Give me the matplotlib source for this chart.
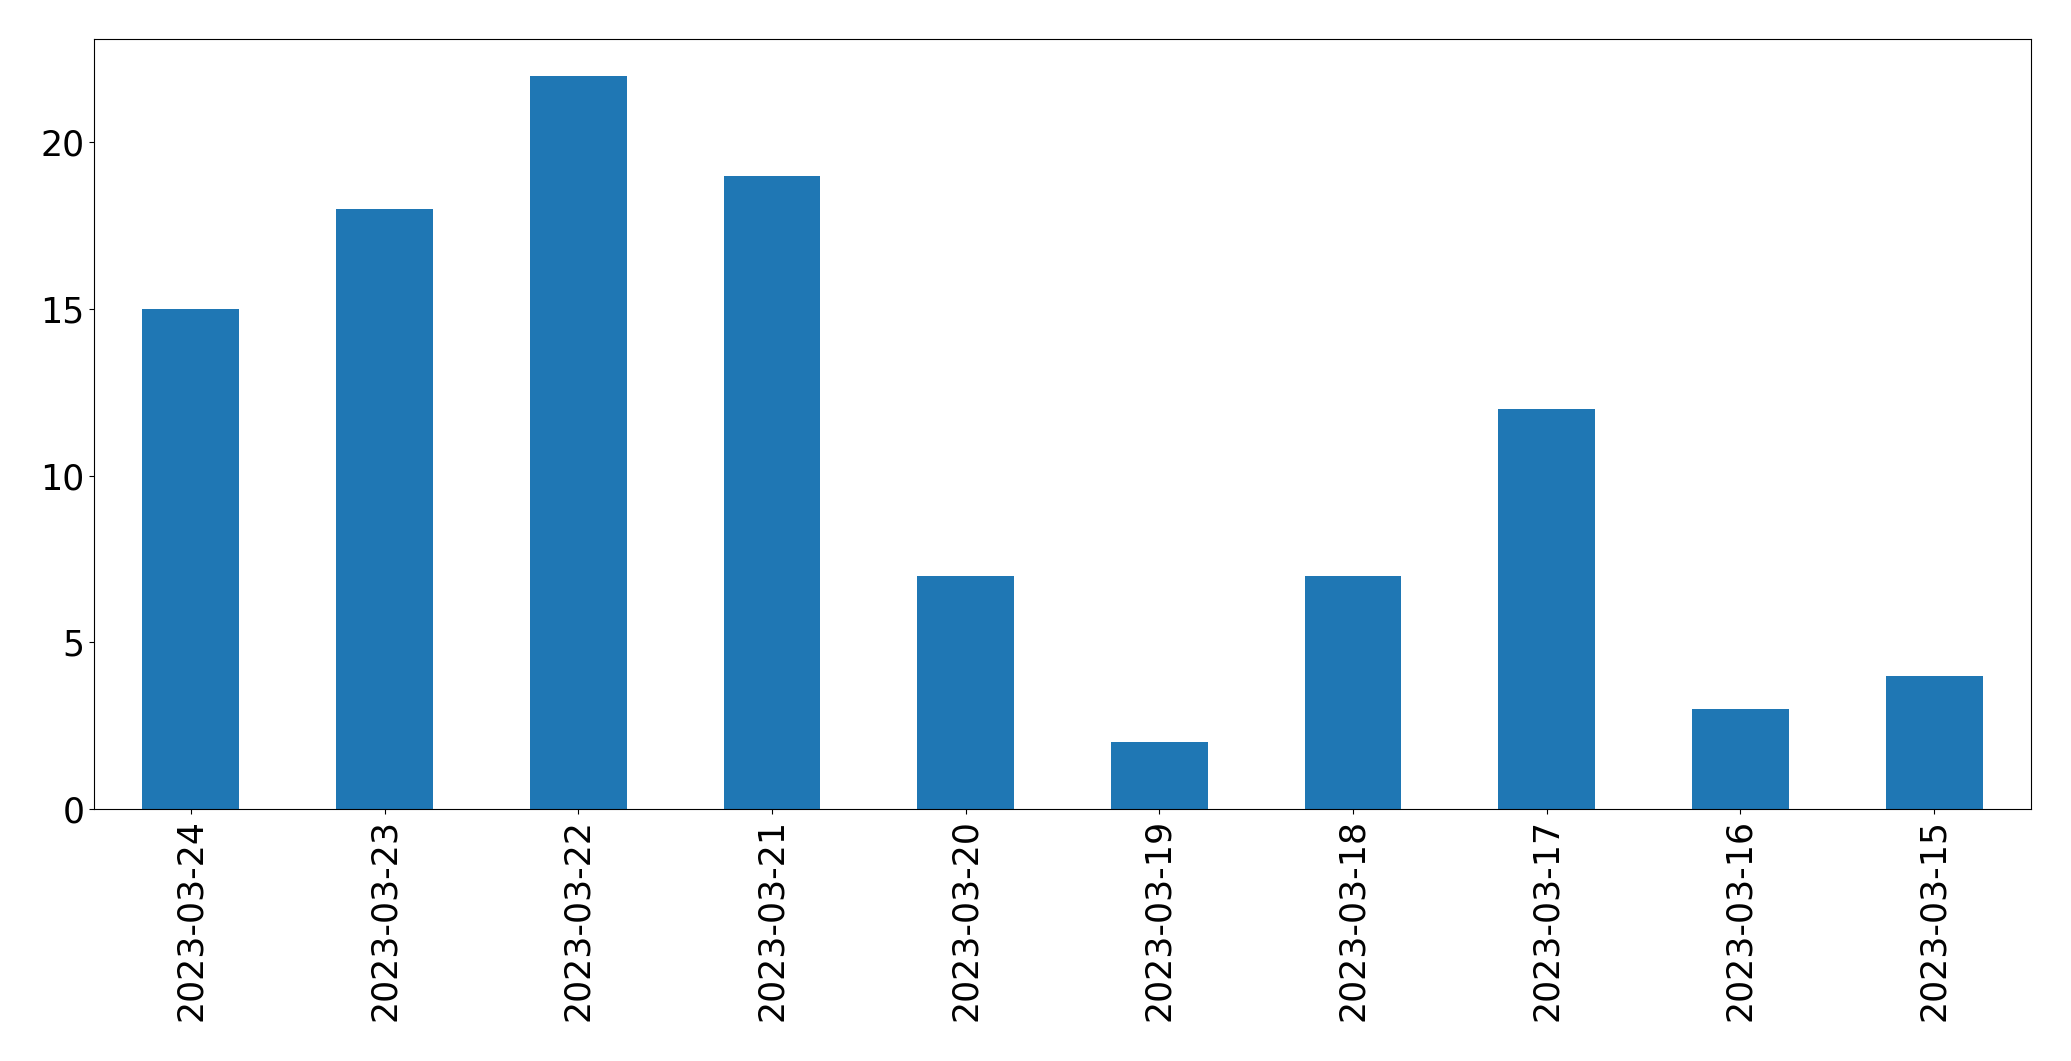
import matplotlib
matplotlib.use("Agg")
import matplotlib.pyplot as plt

dates = ["2023-03-24", "2023-03-23", "2023-03-22", "2023-03-21", "2023-03-20",
         "2023-03-19", "2023-03-18", "2023-03-17", "2023-03-16", "2023-03-15"]
counts = [15, 18, 22, 19, 7, 2, 7, 12, 3, 4]

fig = plt.figure(figsize=(20.71, 10.61), dpi=100)
ax = fig.add_axes([94/2071, 1 - 809/1061, (2031-94)/2071, (809-39)/1061])
x = range(len(dates))
ax.bar(x, counts, width=0.5, color="#1f77b4")
ax.set_xticks(list(x))
ax.set_xticklabels(dates, rotation=90)
ax.set_xlim(-0.5, len(dates) - 0.5)
ax.set_ylim(0, 23.1)
ax.set_yticks([0, 5, 10, 15, 20])
ax.tick_params(labelsize=25)
fig.savefig("out.png", dpi=100)
